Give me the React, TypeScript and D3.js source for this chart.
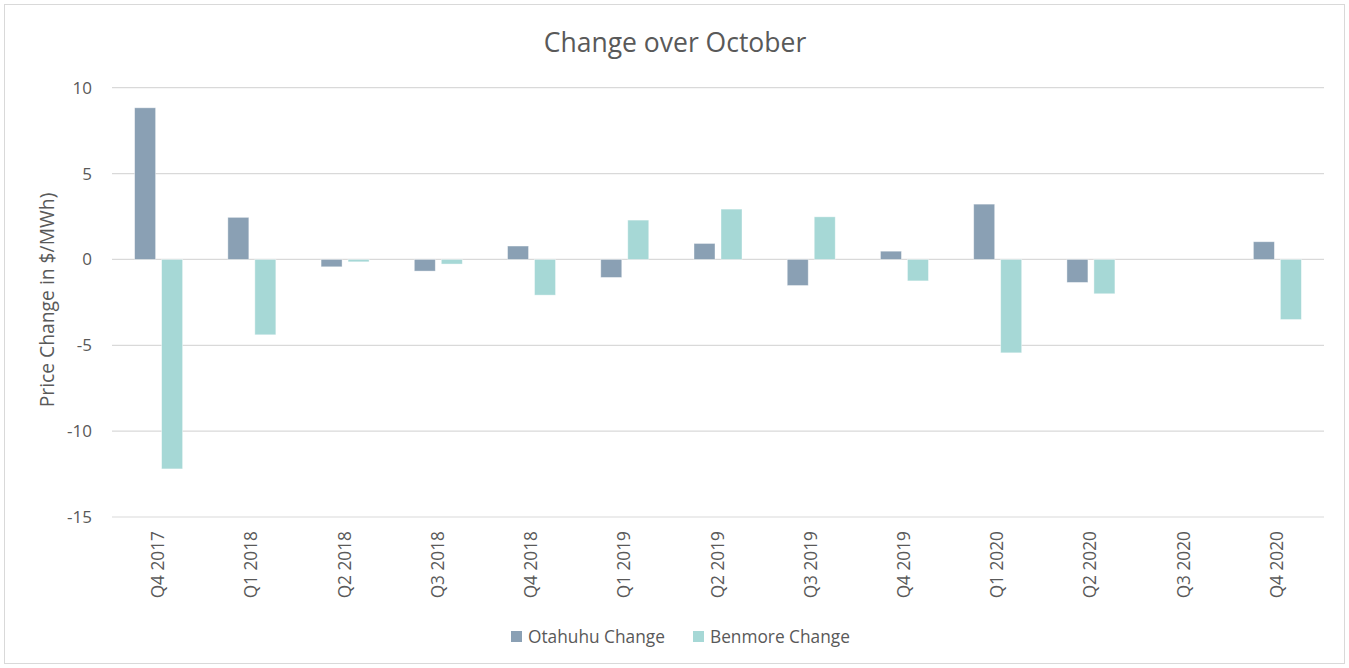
import React from "react";
import * as d3 from "d3";

const categories = ["Q4 2017","Q1 2018","Q2 2018","Q3 2018","Q4 2018","Q1 2019","Q2 2019","Q3 2019","Q4 2019","Q1 2020","Q2 2020","Q3 2020","Q4 2020"];
const otahuhu = [8.83, 2.45, -0.43, -0.68, 0.78, -1.05, 0.93, -1.52, 0.48, 3.22, -1.34, 0, 1.03];
const benmore = [-12.2, -4.39, -0.14, -0.27, -2.08, 2.29, 2.93, 2.48, -1.25, -5.44, -2.0, 0, -3.5];
const yTicks = [10, 5, 0, -5, -10, -15];
const seriesNames = ["Otahuhu Change", "Benmore Change"];
const colors = ["#8AA0B4", "#A6D8D6"];

const W = 1349, H = 668;
const FONT = "'Open Sans', 'Segoe UI', sans-serif";
const TXT = "#595959";

export default function App() {
  const left = 112, right = 1324, top = 87.7, bottom = 517;
  const y = d3.scaleLinear().domain([10, -15]).range([top, bottom]);
  const x = d3.scaleBand<string>().domain(categories).range([left, right]);
  const barW = 21, gap = 6;
  const series = [otahuhu, benmore];
  return (
    <svg width={W} height={H} style={{ position: "absolute", left: 0, top: 0, background: "#fff" }}>
      <rect x={4.5} y={4.5} width={W - 9} height={H - 9} fill="#fff" stroke="#D9D9D9" strokeWidth={1} />
      <text x={675} y={51.5} textAnchor="middle" fontFamily={FONT} fontSize={26.5} fill={TXT}>Change over October</text>
      {yTicks.map(t => (
        <g key={t}>
          <line x1={left} x2={right} y1={y(t)} y2={y(t)} stroke="#D9D9D9" strokeWidth={1.2} />
          <text x={92} y={y(t)} dy="0.35em" textAnchor="end" fontFamily={FONT} fontSize={17} fill={TXT}>{t}</text>
        </g>
      ))}
      <text transform={`translate(54,300) rotate(-90)`} textAnchor="middle" fontFamily={FONT} fontSize={19.3} fill={TXT}>Price Change in $/MWh)</text>
      {categories.map((c, i) => {
        const cx = x(c)! + x.bandwidth() / 2;
        return (
          <g key={c}>
            {series.map((s, k) => {
              const v = s[i];
              if (!v) return null;
              const bx = k === 0 ? cx - gap / 2 - barW : cx + gap / 2;
              const y0 = y(0), y1 = y(v);
              return <rect key={k} x={bx} y={Math.min(y0, y1)} width={barW} height={Math.abs(y1 - y0)} fill={colors[k]} stroke="#fff" strokeOpacity={0.5} strokeWidth={0.8} />;
            })}
            <text transform={`translate(${cx + 5.5},531) rotate(-90)`} textAnchor="end" fontFamily={FONT} fontSize={17.3} fill={TXT}>{c}</text>
          </g>
        );
      })}
      {seriesNames.map((n, k) => {
        const lx = k === 0 ? 511 : 693;
        return (
          <g key={n}>
            <rect x={lx} y={631} width={11} height={11} fill={colors[k]} />
            <text x={lx + 17} y={637} dy="0.35em" fontFamily={FONT} fontSize={17.3} fill={TXT}>{n}</text>
          </g>
        );
      })}
    </svg>
  );
}
